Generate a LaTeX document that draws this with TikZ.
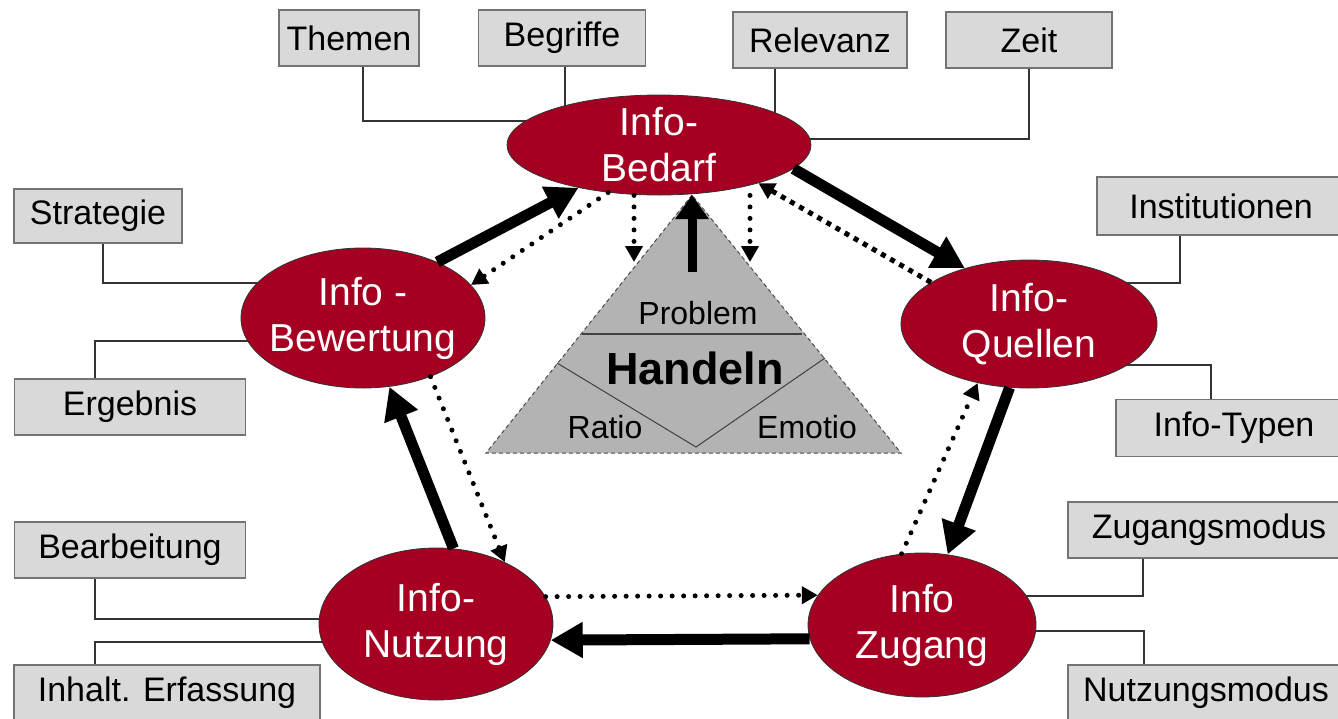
\documentclass[tikz,border=0pt]{standalone}
\usepackage{fontspec}
\setmainfont{Liberation Sans}
\usetikzlibrary{shapes.geometric,arrows.meta,calc}
\pgfdeclarelayer{bg}
\pgfsetlayers{bg,main}
\definecolor{bubred}{RGB}{165,0,33}
\definecolor{boxgray}{RGB}{217,217,217}
\definecolor{trigray}{RGB}{179,179,179}
\begin{document}
\begin{tikzpicture}[x=1pt,y=-1pt,
  box/.style={draw=black!55,line width=1.2pt,fill=boxgray,inner sep=0pt,font=\fontsize{34}{40}\selectfont},
  bub/.style={ellipse,draw=black!80,line width=0.8pt,fill=bubred,inner sep=0pt},
  bubtxt/.style={text=white,align=center,font=\fontsize{39}{46}\selectfont,inner sep=0pt},
  trilabel/.style={inner sep=0pt,font=\fontsize{32}{38}\selectfont},
  link/.style={draw=black!80,line width=1.3pt},
  thickarr/.style={line width=11pt,-{Triangle[length=32pt,width=34pt]}},
  dotarr/.style={line width=5pt,dash pattern=on 0pt off 11.5pt,line cap=round,-{Triangle[length=16pt,width=17pt]}},
  sqdotarr/.style={line width=5pt,dash pattern=on 5pt off 5.5pt,-{Triangle[length=16pt,width=17pt]}},
]
\useasboundingbox (0,0) rectangle (1338,718);
\clip (0,0) rectangle (1338,718);
\begin{pgfonlayer}{bg}
\fill[white] (0,0) rectangle (1338,718);
\end{pgfonlayer}

% triangle
\coordinate (ap) at (692,195);
\coordinate (bl) at (486,453);
\coordinate (br) at (901,453);
\filldraw[fill=trigray,draw=black!70,line width=1pt,dash pattern=on 4pt off 3pt] (ap) -- (bl) -- (br) -- cycle;
\draw[black!75,line width=1.5pt] (582,334) -- (802,334);
\draw[black!75,line width=1pt] (557,363) -- (696,447) -- (825,358);
\node[trilabel] (prob) at (698,313) {Problem};
\node[inner sep=0pt,font=\fontsize{45}{50}\selectfont\bfseries] (hand) at (695,368) {Handeln};
\node[trilabel] (ratio) at (605,427) {Ratio};
\node[trilabel] (emo) at (807,427) {Emotio};

% boxes
\node[box,minimum width=140pt,minimum height=56pt] (them) at (349,38) {Themen};
\node[box,minimum width=167pt,minimum height=56pt] (beg) at (562,38) {Begriffe};
\node[box,minimum width=174pt,minimum height=56pt] (rel) at (820,40) {Relevanz};
\node[box,minimum width=166pt,minimum height=56pt] (zeit) at (1029,40) {Zeit};
\node[box,minimum width=168pt,minimum height=54pt] (str) at (98,216) {Strategie};
\node[box,minimum width=231pt,minimum height=56pt] (erg) at (130,407) {Ergebnis};
\node[box,minimum width=248pt,minimum height=58pt] (inst) at (1221,206) {Institutionen};
\node[box,minimum width=236pt,minimum height=57pt] (typ) at (1234,428) {Info-Typen};
\node[box,minimum width=231pt,minimum height=56pt] (bear) at (130,550) {Bearbeitung};
\node[box,minimum width=306pt,minimum height=56pt] (inh) at (167,693) {Inhalt. Erfassung};
\node[box,minimum width=282pt,minimum height=56pt] (zug) at (1209,530) {Zugangsmodus};
\node[box,minimum width=276pt,minimum height=56pt] (nut) at (1206,693) {Nutzungsmodus};

% bubbles
\node[bub,minimum width=304pt,minimum height=100pt] (bed) at (659,145) {};
\node[bubtxt] at (bed) {Info-\\Bedarf};
\node[bub,minimum width=244pt,minimum height=140pt] (bew) at (363,318) {};
\node[bubtxt] at (bew) {Info -\\Bewertung};
\node[bub,minimum width=256pt,minimum height=128pt] (que) at (1029,324) {};
\node[bubtxt] at (que) {Info-\\Quellen};
\node[bub,minimum width=234pt,minimum height=152pt] (nutz) at (436,624) {};
\node[bubtxt] at (nutz) {Info-\\Nutzung};
\node[bub,minimum width=228pt,minimum height=144pt] (zuga) at (922,625) {};
\node[bubtxt] at (zuga) {Info\\Zugang};

% box connectors
\begin{pgfonlayer}{bg}
\draw[link] ([xshift=14pt]them.south) |- ([yshift=24pt]bed.center);
\draw[link] ([xshift=3pt]beg.south) -- ++(0,60);
\draw[link] ([xshift=-45pt]rel.south) -- ++(0,60);
\draw[link] (zeit.south) |- ([yshift=6pt]bed.center);
\draw[link] ([xshift=5pt]str.south) |- ([yshift=35pt]bew.center);
\draw[link] ([xshift=-35pt]erg.north) |- ([yshift=-23pt]bew.center);
\draw[link] ([xshift=-41pt]inst.south) |- ([yshift=41pt]que.center);
\draw[link] ([xshift=-23pt]typ.north) |- ([yshift=-41pt]que.center);
\draw[link] ([xshift=-35pt]bear.south) |- ([yshift=5pt]nutz.center);
\draw[link] ([xshift=-72pt]inh.north) |- ([yshift=-18pt]nutz.center);
\draw[link] ([xshift=-66pt]zug.south) |- ([yshift=29pt]zuga.center);
\draw[link] ([xshift=-62pt]nut.north) |- ([yshift=-6pt]zuga.center);
\end{pgfonlayer}

% cycle arrows
\draw[thickarr] (bew.37) -- (bed.208);
\draw[thickarr] (bed.350) -- (que.139);
\draw[thickarr] (que.253) -- (zuga.70);
\draw[thickarr] (zuga.187) -- (nutz.352);
\draw[thickarr] (nutz.77) -- (bew.291);

\draw[dotarr] (bed.223) -- (bew.17);
\draw[sqdotarr] (que.157) -- (bed.339);
\draw[dotarr] (bew.319) -- (nutz.42);
\draw[dotarr] (zuga.106) -- (que.229);
\draw[dotarr] (nutz.14) -- (zuga.164);

% arrows into the triangle
\coordinate (tl) at (634,262);
\coordinate (tr) at (750,262);
\draw[dotarr] (tl |- bed.south) -- (tl);
\draw[dotarr] (tr |- bed.south) -- (tr);
\coordinate (upstart) at (692,272);
\draw[line width=9pt,-{Triangle[length=24pt,width=32pt]}] (upstart) -- (ap);
\end{tikzpicture}
\end{document}
